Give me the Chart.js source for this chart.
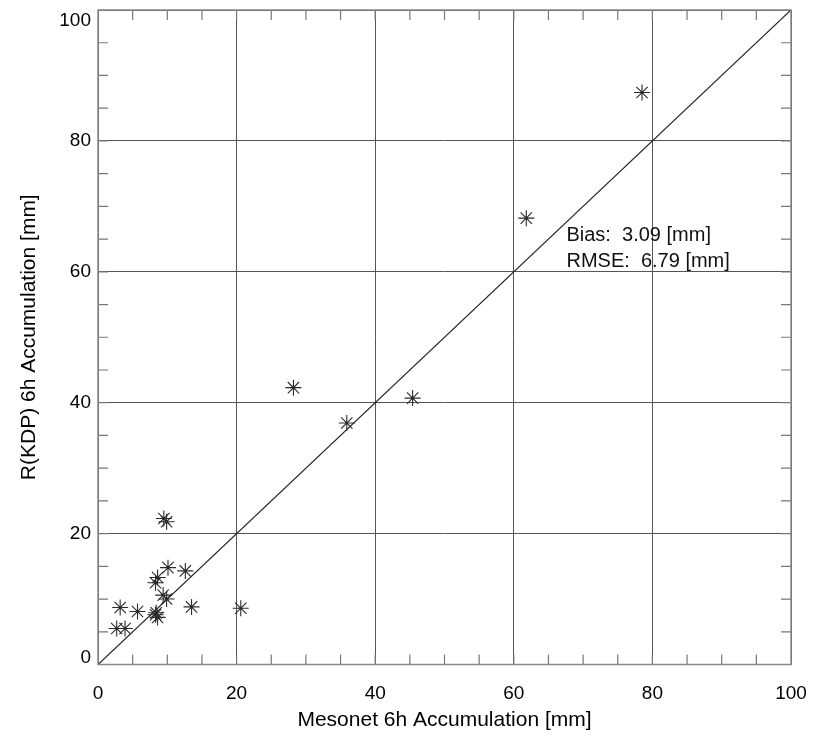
<!DOCTYPE html>
<html>
<head>
<meta charset="utf-8">
<script src="https://cdn.jsdelivr.net/npm/chart.js@4.4.0/dist/chart.umd.min.js"></script>
<style>
html,body{margin:0;padding:0;background:#fff;}
#wrap{width:823px;height:736px;position:relative;}
</style>
</head>
<body>
<div id="wrap"><canvas id="c" width="823" height="736"></canvas></div>
<script>
// Data
const mesonet = [2.7, 3.9, 3.2, 5.7, 8.3, 8.6, 8.4, 9.4, 9.9, 8.3, 8.6, 10.1, 12.6, 13.5, 20.6, 9.5, 9.9, 28.2, 35.9, 45.4, 61.8, 78.5];
const rkdp    = [5.5, 5.5, 8.7, 8.1, 7.6, 7.2, 7.9, 10.6, 10.0, 12.5, 13.3, 14.8, 14.3, 8.8, 8.6, 22.3, 21.8, 42.3, 36.9, 40.7, 68.2, 87.4];
const oneToOne = [0, 100];
const tickValues = [0, 20, 40, 60, 80, 100];
const statsLines = ["Bias:  3.09 [mm]", "RMSE:  6.79 [mm]"];
const xTitle = "Mesonet 6h Accumulation [mm]";
const yTitle = "R(KDP) 6h Accumulation [mm]";

const FONT = "'Liberation Sans', Arial, Helvetica, sans-serif";

const points = mesonet.map((x, i) => ({x: x, y: rkdp[i]}));
const diag = oneToOne.map(v => ({x: v, y: v}));

const frame = {
  id: 'frame',
  afterDatasetsDraw(chart) {
    const ctx = chart.ctx, a = chart.chartArea;
    const xs = chart.scales.x, ys = chart.scales.y;
    ctx.save();
    ctx.strokeStyle = '#777';
    ctx.lineWidth = 1.2;
    ctx.beginPath();
    for (let v = 5; v < 100; v += 5) {
      const px = xs.getPixelForValue(v);
      ctx.moveTo(px, a.bottom); ctx.lineTo(px, a.bottom - 10);
      ctx.moveTo(px, a.top); ctx.lineTo(px, a.top + 10);
      const py = ys.getPixelForValue(v);
      ctx.moveTo(a.left, py); ctx.lineTo(a.left + 10, py);
      ctx.moveTo(a.right, py); ctx.lineTo(a.right - 10, py);
    }
    ctx.stroke();
    ctx.strokeStyle = '#888';
    ctx.lineWidth = 1.5;
    ctx.strokeRect(a.left, a.top, a.right - a.left, a.bottom - a.top);
    // stats text
    ctx.fillStyle = '#111';
    ctx.font = '20px ' + FONT;
    ctx.textBaseline = 'middle';
    ctx.textAlign = 'left';
    const tx = xs.getPixelForValue(67.6);
    ctx.fillText(statsLines[0], tx, ys.getPixelForValue(65.5));
    ctx.fillText(statsLines[1], tx, ys.getPixelForValue(61.5));
    ctx.restore();
  }
};

new Chart(document.getElementById('c'), {
  type: 'scatter',
  data: {
    datasets: [
      {
        type: 'line',
        data: diag,
        borderColor: '#222',
        borderWidth: 1.2,
        pointRadius: 0,
        fill: false,
        order: 2
      },
      {
        data: points,
        pointStyle: 'star',
        pointRadius: 8,
        borderColor: '#2a2a2a',
        backgroundColor: '#2a2a2a',
        borderWidth: 1.1,
        pointHoverRadius: 8,
        order: 1
      }
    ]
  },
  options: {
    responsive: false,
    animation: false,
    devicePixelRatio: 1,
    layout: {padding: {top: 10, right: 32, left: 0, bottom: 0}},
    plugins: {legend: {display: false}, tooltip: {enabled: false}},
    scales: {
      x: {
        type: 'linear', min: 0, max: 100,
        afterBuildTicks(s) { s.ticks = tickValues.map(v => ({value: v})); },
        afterFit(s) { s.height = 71.5; s.paddingLeft = 0; s.paddingRight = 0; },
        grid: {color: '#555', lineWidth: 1, drawTicks: false},
        border: {display: false},
        ticks: {color: '#000', font: {family: FONT, size: 19}, padding: 18, maxRotation: 0},
        title: {display: true, text: xTitle, color: '#000', font: {family: FONT, size: 21}, padding: {top: 2, bottom: 3}}
      },
      y: {
        type: 'linear', min: 0, max: 100,
        afterBuildTicks(s) { s.ticks = tickValues.map(v => ({value: v})); },
        afterFit(s) { s.width = 98; s.paddingTop = 0; s.paddingBottom = 0; },
        grid: {color: '#555', lineWidth: 1, drawTicks: false},
        border: {display: false},
        ticks: {
          color: '#000', padding: 7,
          font: (c) => ({family: FONT, size: 19, lineHeight: (c.tick && c.tick.value === 0) ? '13px' : '22px'}),
          callback: (v) => v === 100 ? ['', String(v)] : (v === 0 ? [String(v), ''] : String(v))
        },
        title: {display: true, text: yTitle, color: '#000', font: {family: FONT, size: 21}, padding: {top: 17, bottom: 0}}
      }
    }
  },
  plugins: [frame]
});
</script>
</body>
</html>
